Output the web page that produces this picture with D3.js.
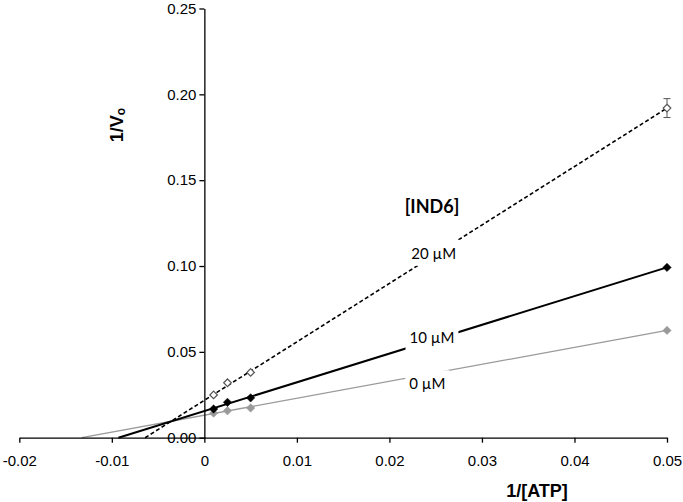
<!DOCTYPE html>
<html>
<head>
<meta charset="utf-8">
<script src="https://cdn.jsdelivr.net/npm/d3@7"></script>
<style>
  html, body { margin: 0; padding: 0; background: #fff; }
  svg { display: block; }
</style>
</head>
<body>
<svg id="chart" width="683" height="502"></svg>
<script>
// ---- data ----
const invATP = [0.001, 0.0025, 0.005, 0.05];          // 1/[ATP]
const seriesNames = ["0 µM", "10 µM", "20 µM"];
const v0uM  = [0.0143, 0.0157, 0.0173, 0.0625];       // 1/Vo, [IND6] = 0
const v10uM = [0.0167, 0.0206, 0.0232, 0.0992];       // 1/Vo, [IND6] = 10 µM
const v20uM = [0.0249, 0.0320, 0.0380, 0.1920];       // 1/Vo, [IND6] = 20 µM
const err20uM = [0, 0, 0, 0.0055];                    // error bars (20 µM)
const fitSlope     = [0.988, 1.673, 3.404];           // linear fits
const fitIntercept = [0.01309, 0.01554, 0.02179];
const xTicks = [-0.02, -0.01, 0, 0.01, 0.02, 0.03, 0.04, 0.05];
const xTickLabels = ["-0.02", "-0.01", "0", "0.01", "0.02", "0.03", "0.04", "0.05"];
const yTicks = [0, 0.05, 0.10, 0.15, 0.20, 0.25];
const yTickLabels = ["0.00", "0.05", "0.10", "0.15", "0.20", "0.25"];

const svg = d3.select("#chart");
const x = d3.scaleLinear().domain([-0.02, 0.05]).range([19.3, 667]);
const y = d3.scaleLinear().domain([0, 0.25]).range([437.7, 8.5]);

const styles = [
  { line: "#9a9a9a", width: 1.3, dash: null, fill: "#9a9a9a", stroke: "#9a9a9a" },
  { line: "#000000", width: 2.0, dash: null, fill: "#000000", stroke: "#000000" },
  { line: "#000000", width: 1.6, dash: "4,2.5", fill: "#ffffff", stroke: "#555555" }
];
const values = [v0uM, v10uM, v20uM];

// ---- fit lines ----
const gLines = svg.append("g");
fitSlope.forEach((m, i) => {
  const b = fitIntercept[i];
  const x0 = -b / m, x1 = 0.05;
  gLines.append("line")
    .attr("x1", x(x0)).attr("y1", y(0))
    .attr("x2", x(x1)).attr("y2", y(b + m * x1))
    .attr("stroke", styles[i].line)
    .attr("stroke-width", styles[i].width)
    .attr("stroke-dasharray", styles[i].dash);
});

// ---- label boxes (white background interrupting lines) ----
const labels = [
  { t: "20 µM", xv: 0.0248, yv: 0.1077 },
  { t: "10 µM", xv: 0.0246, yv: 0.0584 },
  { t: "0 µM",  xv: 0.0241, yv: 0.0317 }
];
const gLab = svg.append("g");
labels.forEach(l => {
  const t = gLab.append("text")
    .attr("x", x(l.xv)).attr("y", y(l.yv))
    .attr("text-anchor", "middle").attr("dominant-baseline", "central")
    .attr("font-family", "Lato, 'Open Sans', sans-serif")
    .attr("font-size", 15).attr("fill", "#000").text(l.t);
  const bb = t.node().getBBox();
  gLab.insert("rect", "text")
    .attr("x", bb.x - 4).attr("y", bb.y - 4)
    .attr("width", bb.width + 8).attr("height", bb.height + 8)
    .attr("fill", "#fff");
});
svg.append("text")
  .attr("x", x(0.0246)).attr("y", y(0.1347))
  .attr("text-anchor", "middle").attr("dominant-baseline", "central")
  .attr("font-family", "Lato, 'Open Sans', sans-serif")
  .attr("font-weight", "bold").attr("font-size", 18).text("[IND6]");

// ---- axes ----
const xAxis = d3.axisBottom(x).tickValues(xTicks)
  .tickFormat((d, i) => xTickLabels[i]).tickSize(5).tickSizeOuter(0).tickPadding(13);
const gx = svg.append("g").attr("transform", `translate(0,${y(0)})`).call(xAxis);
const yAxis = d3.axisLeft(y).tickValues(yTicks)
  .tickFormat((d, i) => yTickLabels[i]).tickSize(5).tickSizeOuter(0).tickPadding(3);
const gy = svg.append("g").attr("transform", `translate(${x(0)},0)`).call(yAxis);
[gx, gy].forEach(g => {
  g.select(".domain").attr("stroke", "#000").attr("stroke-width", 1.3);
  g.selectAll(".tick line").attr("stroke", "#000").attr("stroke-width", 1.3);
  g.selectAll(".tick text")
    .attr("font-family", "'Liberation Sans', Arial, sans-serif")
    .attr("font-size", 15).attr("fill", "#000");
});

// ---- error bars ----
const gErr = svg.append("g");
err20uM.forEach((e, j) => {
  if (!e) return;
  const cx = x(invATP[j]);
  gErr.append("line").attr("x1", cx).attr("x2", cx)
    .attr("y1", y(v20uM[j] - e)).attr("y2", y(v20uM[j] + e))
    .attr("stroke", "#555").attr("stroke-width", 1);
  [v20uM[j] - e, v20uM[j] + e].forEach(v => {
    gErr.append("line").attr("x1", cx - 3.5).attr("x2", cx + 3.5)
      .attr("y1", y(v)).attr("y2", y(v))
      .attr("stroke", "#555").attr("stroke-width", 1);
  });
});

// ---- markers ----
const diamond = r => `M0,${-r}L${r},0L0,${r}L${-r},0Z`;
values.forEach((vals, i) => {
  svg.append("g").selectAll("path").data(vals).join("path")
    .attr("transform", (d, j) => `translate(${x(invATP[j])},${y(d)})`)
    .attr("d", diamond(i === 2 ? 3.8 : 4.2))
    .attr("fill", styles[i].fill)
    .attr("stroke", styles[i].stroke)
    .attr("stroke-width", i === 2 ? 1.2 : 0.5);
});

// ---- axis titles ----
svg.append("text")
  .attr("x", 537).attr("y", 491)
  .attr("text-anchor", "middle").attr("dominant-baseline", "central")
  .attr("font-family", "'Liberation Sans', Arial, sans-serif")
  .attr("font-weight", "bold").attr("font-size", 18).text("1/[ATP]");
const yt = svg.append("text")
  .attr("transform", "translate(117,125) rotate(-90)")
  .attr("text-anchor", "middle").attr("dominant-baseline", "central")
  .attr("font-family", "'Liberation Sans', Arial, sans-serif")
  .attr("font-weight", "bold").attr("font-size", 18);
yt.append("tspan").text("1/V");
yt.append("tspan").attr("font-size", 12).attr("dy", 4).text("o");
</script>
</body>
</html>
